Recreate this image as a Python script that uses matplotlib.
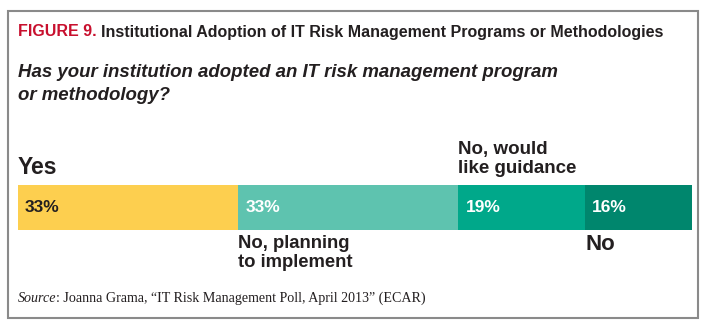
import matplotlib.pyplot as plt
from matplotlib.patches import Rectangle

# survey answers, left to right
answers = ["Yes", "No, planning\nto implement", "No, would\nlike guidance", "No"]
shares = [33, 33, 19, 16]
colors = ["#FDCF4F", "#5EC3AF", "#00A88A", "#00866D"]
pct_colors = ["#231F20", "white", "white", "white"]

title_num = "FIGURE 9."
title_text = "Institutional Adoption of IT Risk Management Programs or Methodologies"
question = "Has your institution adopted an IT risk management program\nor methodology?"
source_text = ": Joanna Grama, \u201cIT Risk Management Poll, April 2013\u201d (ECAR)"

W, H = 708, 326
ink = "#231F20"
sans = "Liberation Sans"
fig = plt.figure(figsize=(W / 100, H / 100), dpi=100)
fig.patch.set_facecolor("white")

# outer frame, in pixel units
frame = fig.add_axes([0, 0, 1, 1])
frame.set_xlim(0, W)
frame.set_ylim(H, 0)
frame.axis("off")
frame.add_patch(Rectangle((8, 11), 690, 307, fill=False, ec="#8a8a8a", lw=1.5))

t1 = frame.text(18, 32, title_num, color="#C8102E", fontsize=11.5, fontweight="bold",
                family=sans, va="center")
frame.annotate(title_text, xy=(1, 0.5), xycoords=t1, xytext=(3, 0),
               textcoords="offset points", color=ink, fontsize=11.5,
               fontweight="bold", family=sans, va="center")
frame.text(18, 84, question, color=ink, fontsize=13.4, fontweight="bold",
           style="italic", family=sans, va="center", linespacing=1.4)

s1 = frame.text(18, 298, "Source", fontsize=10.1, style="italic", family="Liberation Serif",
                color=ink, va="center")
frame.annotate(source_text, xy=(1, 0.5), xycoords=s1, xytext=(0, 0),
               textcoords="offset points", fontsize=10.1, family="Liberation Serif",
               color=ink, va="center")

# stacked bar: x in percent, y in pixels
ax = fig.add_axes([18 / W, 0, (692 - 18) / W, 1])
ax.set_xlim(0, sum(shares))
ax.set_ylim(H, 0)
ax.axis("off")

left = 0
for i, (name, v, c) in enumerate(zip(answers, shares, colors)):
    ax.barh(207.5, v, left=left, height=45, color=c, edgecolor="none")
    ax.annotate(f"{v}%", xy=(left, 208), xytext=(5, 0), textcoords="offset points",
                color=pct_colors[i], fontsize=12.5, fontweight="bold", family=sans,
                va="center")
    if i == 0:
        ax.text(left, 168, name, fontsize=16.5, fontweight="bold", family=sans,
                color=ink, va="center")
    elif i == 1:
        ax.text(left, 253, name, fontsize=13.3, fontweight="bold", family=sans,
                color=ink, va="center", linespacing=1.2)
    elif i == 2:
        ax.text(left, 159, name, fontsize=13.5, fontweight="bold", family=sans,
                color=ink, va="center", linespacing=1.2)
    else:
        ax.text(left, 245, name, fontsize=16, fontweight="bold", family=sans,
                color=ink, va="center")
    left += v

fig.savefig("out.png", dpi=100, facecolor="white")
